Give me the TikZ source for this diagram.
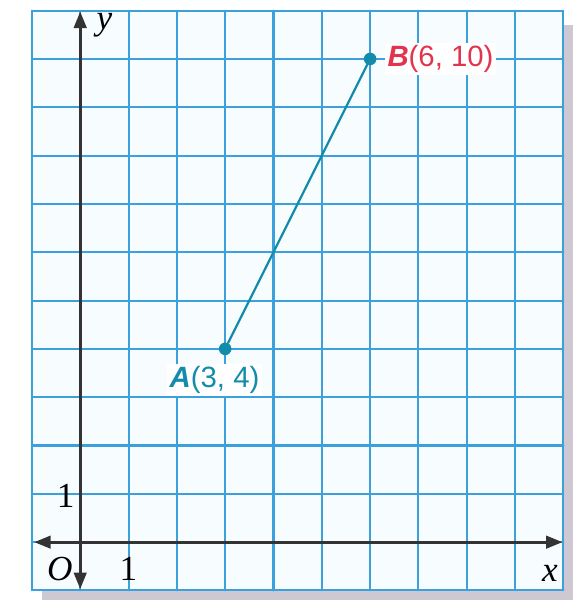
\documentclass[tikz,border=0pt]{standalone}
\usepackage{fontspec}
\setmainfont{Liberation Serif}
\newfontfamily\labfont{Liberation Sans}
\usetikzlibrary{arrows.meta}
\definecolor{gridblue}{RGB}{60,160,220}
\definecolor{segteal}{RGB}{18,140,170}
\definecolor{labred}{RGB}{226,52,78}
\definecolor{shadowgray}{RGB}{205,200,210}
\tikzset{
  gridline/.style={gridblue,line width=1.2pt},
  axisline/.style={line width=1.6pt,black!80,{Triangle[length=3.4mm,width=2.6mm]}-{Triangle[length=3.4mm,width=2.6mm]}},
  ptdot/.style={circle,fill=segteal,inner sep=0pt,minimum size=2.6mm},
  ptlab/.style={fill=white,inner sep=1.5pt,font=\labfont\LARGE},
  axlab/.style={font=\huge}
}

\begin{document}
\begin{tikzpicture}[line cap=round,line join=round,every node/.style={inner sep=1pt}]
  \useasboundingbox (-1.66,-1.28) rectangle (10.47,11.22);
  % 阴影
  \fill[shadowgray] (-0.8,-1.2) rectangle (10.2,10.7);
  \fill[white!97!cyan] (-1,-1) rectangle (10,11);
  % 网格
  \foreach \x in {-1,0,...,10} {
    \draw[gridline] (\x,-1) -- (\x,11);
  }
  \foreach \y in {-1,0,...,11} {
    \draw[gridline] (-1,\y) -- (10,\y);
  }
  % 坐标轴
  \coordinate (xl) at (-0.95,0);
  \coordinate (xr) at (9.98,0);
  \coordinate (yd) at (0,-0.97);
  \coordinate (yu) at (0,10.98);
  \draw[axisline] (xl) -- (xr);
  \draw[axisline] (yd) -- (yu);
  \node[axlab] (xlab) at (9.72,-0.64) {\itshape x};
  \node[axlab] (ylab) at (0.5,10.7) {\itshape y};
  \node[axlab] (olab) at (-0.42,-0.56) {\itshape O};
  \node[axlab] (xone) at (1,-0.56) {1};
  \node[axlab] (yone) at (-0.3,0.95) {1};
  % 线段
  \node[ptdot] (pA) at (3,4) {};
  \node[ptdot] (pB) at (6,10) {};
  \draw[segteal,line width=1.3pt] (pA) -- (pB);
  \node[ptlab,text=segteal,anchor=north] (labA) at (2.78,3.7) {\textbf{\textit{A}}(3, 4)};
  \node[ptlab,text=labred,anchor=west] (labB) at (6.3,10) {\textbf{\textit{B}}(6, 10)};
\end{tikzpicture}
\end{document}
